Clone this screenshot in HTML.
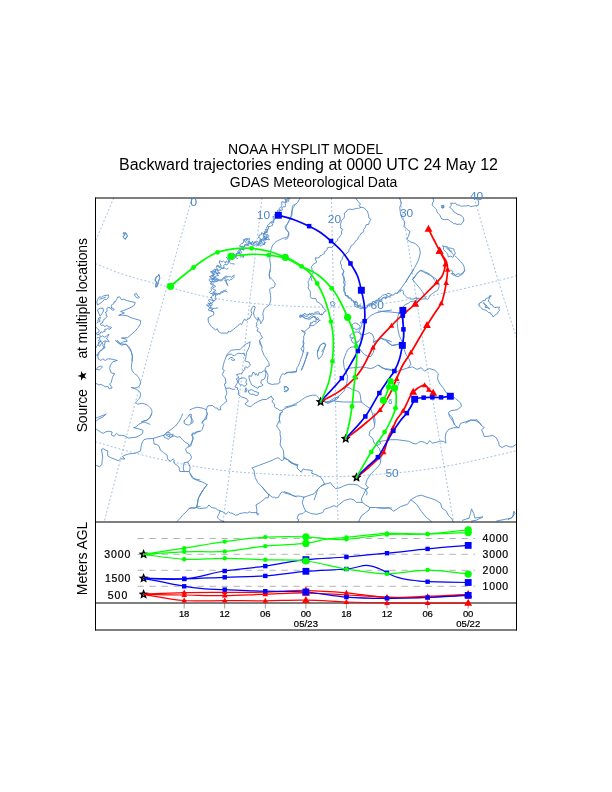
<!DOCTYPE html>
<html><head><meta charset="utf-8"><title>HYSPLIT</title>
<style>
html,body{margin:0;padding:0;background:#fff;}
body{width:612px;height:792px;overflow:hidden;}
svg{display:block;font-family:"Liberation Sans",sans-serif;will-change:transform;opacity:0.9999;}
</style></head><body>
<svg width="612" height="792" viewBox="0 0 612 792">
<rect width="612" height="792" fill="#fff"/>
<defs><clipPath id="mc"><rect x="95.5" y="198" width="421" height="324"/></clipPath></defs>
<g clip-path="url(#mc)" fill="none" stroke="#4f89c8" stroke-width="0.9" stroke-linejoin="round" stroke-linecap="round">
<g stroke-dasharray="1.9 2.1" stroke-linecap="butt" stroke-width="0.7" stroke="#79a5d6">
<path d="M113.7 198.0L96.0 240.0"/>
<path d="M192.0 198.0C184.9 223.3 164.0 296.2 149.4 350.0C134.8 403.8 111.9 492.5 104.4 521.0"/>
<path d="M262.0 198.0C259.6 218.3 251.4 286.9 247.6 320.0C243.8 353.1 243.4 363.1 239.3 396.8C235.2 430.5 225.7 501.1 223.0 522.0"/>
<path d="M331.5 198.0L338.0 522.0"/>
<path d="M399.5 198.0C400.9 205.7 403.9 219.0 408.0 244.0C412.1 269.0 418.9 316.6 424.0 348.0C429.1 379.4 433.5 403.7 438.4 432.7C443.3 461.7 451.0 507.1 453.5 522.0"/>
<path d="M474.3 198.0C478.3 211.8 491.3 257.6 498.3 280.8C505.3 304.1 513.5 328.1 516.5 337.5"/>
<path d="M95.4 263.7C100.5 265.6 113.7 271.4 126.0 275.3C138.3 279.2 155.3 283.5 169.1 287.1C182.9 290.8 194.9 294.5 208.7 297.2C222.5 299.9 235.0 301.7 251.9 303.3C268.8 304.9 291.3 306.5 310.1 306.9C328.9 307.3 346.6 307.3 364.7 305.8C382.8 304.3 403.7 300.4 418.7 297.9C433.7 295.4 440.9 293.7 454.7 290.7C468.5 287.7 491.1 282.4 501.4 279.9C511.7 277.4 514.0 276.3 516.5 275.6"/>
<path d="M95.4 441.7C100.5 443.2 114.9 447.7 126.0 450.7C137.1 453.7 150.0 457.0 162.0 459.7C174.0 462.4 185.9 464.9 197.9 466.9C209.9 468.9 221.9 470.4 233.9 471.6C245.9 472.8 257.2 473.4 269.9 474.1C282.6 474.8 299.1 475.5 310.1 475.9C321.1 476.3 325.7 476.8 336.0 476.6C346.3 476.4 358.1 475.8 371.9 474.8C385.7 473.8 403.7 472.4 418.7 470.5C433.7 468.6 448.1 466.0 461.9 463.3C475.7 460.6 492.3 456.4 501.4 454.3C510.5 452.2 514.0 451.3 516.5 450.7"/>
</g>
<path d="M123.3 233.2C123.6 233.1 125.4 232.4 125.9 232.8C126.4 233.2 127.4 235.2 127.3 236.1C127.1 236.9 125.5 239.1 125.0 239.2C124.5 239.2 123.4 237.2 123.3 236.6C123.2 236.0 124.5 235.3 124.5 234.9C124.5 234.4 123.5 233.4 123.3 233.2"/>
<path d="M158.8 274.8C159.0 275.3 159.9 277.6 159.8 278.6C159.8 279.5 158.5 281.0 158.1 282.0C157.8 283.0 157.5 285.7 157.1 286.3C156.7 286.9 155.5 287.3 155.4 286.8C155.3 286.4 156.5 283.9 156.4 282.9C156.4 281.9 155.0 280.2 155.0 279.4C155.1 278.6 156.3 277.5 156.8 276.9C157.3 276.2 158.5 275.1 158.8 274.8"/>
<path d="M134.8 294.0L136.7 293.5L137.6 295.9L139.5 297.3L138.1 298.3L135.7 296.8Z"/>
<path d="M97.8 299.2L99.3 296.8L101.6 297.3L103.5 295.9L108.3 294.9L108.7 296.8L106.4 299.7L104.5 299.2L102.6 301.6L100.2 303.5L97.4 304.9L96.9 302.5Z"/>
<path d="M99.7 299.2L102.6 298.3L105.4 297.3"/>
<path d="M97.8 309.6L100.2 308.2L103.0 308.2L103.5 311.0L102.1 313.4L100.2 316.2L98.8 313.4Z"/>
<path d="M117.7 297.3L119.6 296.8L121.5 299.7L123.4 299.2L127.2 300.6L131.0 301.6L135.2 302.5L134.3 305.4L131.0 307.3L127.2 309.1L123.4 310.6L120.6 311.5L124.4 312.9L118.7 315.3L122.5 315.1L127.2 315.8L131.0 317.7L135.7 319.1L140.5 320.5L140.6 322.4L140.5 323.8L138.1 327.6L134.8 331.4L131.0 334.7L127.7 337.6L121.5 338.0L125.8 339.0L127.2 341.3L123.4 341.8L119.6 343.7L115.4 340.4L118.7 343.2L121.5 345.1L125.8 344.2L128.6 347.5L131.0 351.3L132.4 355.5L131.9 360.8"/>
<path d="M117.3 340.3C117.8 340.7 119.5 343.1 120.7 343.7C122.0 344.3 125.5 343.9 126.7 344.6C128.0 345.3 129.5 347.6 130.2 348.9C130.9 350.1 131.6 352.6 131.9 354.0C132.2 355.4 132.5 357.3 132.4 359.2C132.3 361.0 131.2 365.9 131.4 367.7C131.5 369.6 132.7 371.7 133.6 372.9C134.5 374.0 137.0 375.1 137.9 376.3C138.8 377.6 140.3 380.9 140.5 382.3C140.6 383.7 139.5 385.8 138.7 386.6C138.0 387.4 135.8 387.9 134.8 388.0C133.8 388.1 130.8 387.3 131.0 387.5C131.2 387.6 135.0 388.6 136.2 389.2C137.4 389.8 139.4 391.3 139.9 392.1C140.5 392.9 140.6 394.3 140.5 395.2C140.4 396.1 139.9 397.7 139.3 398.6C138.6 399.6 136.0 401.7 135.8 402.4C135.6 403.1 137.0 404.0 137.9 404.1C138.7 404.2 141.0 403.3 142.2 403.4C143.3 403.5 145.4 404.1 146.5 404.6C147.5 405.2 149.5 406.6 150.2 407.5C151.0 408.4 151.9 410.4 152.0 411.5C152.0 412.6 151.2 414.8 150.8 415.8C150.3 416.8 149.3 418.2 148.5 418.9C147.7 419.5 145.7 420.5 144.8 420.9C143.8 421.3 141.2 421.5 141.3 421.8C141.4 422.0 144.5 422.3 145.6 422.6C146.8 423.0 149.3 424.1 149.9 424.3"/>
<path d="M105.3 341.1L104.4 345.4L102.7 348.9L98.4 352.6L97.6 354.9L98.4 359.2L101.0 360.5L102.7 358.8L105.3 360.5L107.9 358.8L112.2 359.2L117.3 360.5L113.0 361.7L110.4 365.2L109.6 368.6L111.3 372.9L114.7 373.7L113.0 376.3L112.2 378.4L111.3 382.3L109.6 384.0L112.2 388.0L109.1 388.7L107.9 386.3L105.6 386.9L103.6 385.7L101.0 384.5L98.4 384.9L95.9 383.2L95.0 382.8"/>
<path d="M96.4 369.4C96.6 369.1 97.4 367.5 98.1 367.0C98.8 366.6 101.0 365.9 101.5 366.0C102.0 366.1 102.2 367.2 101.9 367.7C101.6 368.2 100.0 369.6 99.3 369.8C98.6 370.0 96.8 369.5 96.4 369.4"/>
<path d="M95.0 349.7L96.7 346.3L99.3 342.9L101.0 341.1"/>
<path d="M95.0 418.3L97.6 417.5L101.9 415.8L106.2 414.1L102.7 417.1L98.4 419.2L95.9 421.3"/>
<path d="M151.6 414.0L149.9 417.4L146.5 420.9L143.9 420.5L142.2 422.6L138.7 424.3L136.2 426.9L133.6 427.7L137.9 428.6L143.0 430.3L142.7 432.9L141.3 434.6L136.2 437.2L131.9 437.7L128.5 438.0L125.0 436.0L121.6 435.3L119.0 435.4L116.4 433.4L114.2 436.3L111.3 434.9L112.2 432.0L108.7 431.2L105.3 432.0L103.6 433.2L101.9 432.9L99.3 431.2L96.7 429.4L95.0 429.1"/>
<path d="M95.0 465.5L96.7 465.5L99.3 466.8L101.9 464.6L102.2 460.3L102.7 456.9L101.5 449.2L103.6 448.8L105.3 450.0L107.9 450.9L107.4 453.5L107.9 456.0L110.8 457.7L113.9 458.9L118.2 460.7L120.7 458.9L125.0 458.9L122.4 456.5L125.9 454.8L129.3 453.8L133.6 453.5L137.0 452.6L140.5 450.9L141.0 447.5L141.3 444.9L142.7 441.4L143.9 439.7L146.5 438.9L153.3 438.4L160.2 436.3L165.3 434.6L167.1 432.0L168.8 431.2L172.2 428.6L175.6 426.0L178.2 422.6L179.9 420.0L181.6 416.6L182.5 414.0"/>
<path d="M163.6 435.4L166.2 432.9L169.6 432.5L170.5 434.9L173.1 434.2L172.5 436.6L169.6 437.7L168.4 439.4L166.2 438.0L164.5 437.7L163.6 435.4"/>
<path d="M166.7 434.9L169.1 434.2L170.1 436.3L167.9 436.6L166.7 434.9"/>
<path d="M153.3 438.4L153.7 441.4L154.2 444.0L156.8 444.5L158.5 445.7L159.8 448.0L160.2 450.0L162.2 451.4L163.6 452.6L167.1 455.2L167.4 457.7L167.9 459.5L170.5 461.2L173.1 458.9L174.3 460.0L173.9 462.0L174.8 463.8L177.3 465.5L179.1 467.2L179.4 469.8L179.9 471.5L184.2 471.5"/>
<path d="M171.3 436.3L174.8 436.0L177.3 437.2L179.9 436.6L180.8 438.0L182.8 439.7L184.2 441.4L186.8 443.2L188.5 444.0L189.0 446.6L186.8 447.5L185.6 449.2L186.8 452.6L189.0 453.1L190.2 454.3L191.4 456.9L191.1 458.6L189.4 460.7L187.6 462.0"/>
<path d="M200.0 431.2L197.1 431.5L194.5 432.9L192.4 433.2L191.9 435.4L193.1 438.0L192.8 439.7L191.1 443.2L189.0 446.6"/>
<path d="M184.2 462.9L187.6 462.0L189.0 464.6L190.2 467.2L189.7 469.8L189.0 471.5L184.2 471.5L183.4 468.9L183.4 466.3L184.2 462.9"/>
<path d="M189.0 471.5L191.1 474.9L193.6 478.3L197.1 479.5L200.0 480.0"/>
<path d="M184.2 420.9L185.9 418.8L187.6 417.4L189.0 414.9L191.1 414.0L191.4 416.6L191.9 419.1L193.1 420.9L192.8 422.6L188.5 425.2L185.9 424.3L184.2 423.4L184.2 420.9"/>
<path d="M177.3 521.2L179.9 518.6L182.5 515.2L185.9 512.1L188.5 509.2L191.1 507.5L194.5 508.3L197.1 506.9L200.0 506.6"/>
<path d="M200.0 494.6L198.8 497.2L197.9 499.7L197.6 503.2L197.1 506.6"/>
<path d="M288.6 197.1L288.1 199.0L286.5 199.4L284.7 199.6L287.2 202.0L285.2 202.4L281.7 201.7L281.8 203.1L281.8 204.5L281.7 205.5L281.6 206.8L279.9 207.5L279.3 208.3L280.3 210.3L277.7 210.0L277.9 211.2L277.3 212.2L277.9 214.0L277.1 214.9L274.2 214.7L276.6 217.6L272.8 216.4L273.4 218.2L273.3 219.5L273.5 220.9L272.1 221.3L271.2 222.0L269.9 222.6L269.5 224.0L268.6 224.5L267.5 225.3L267.3 226.9L266.4 227.5L267.5 230.1L265.1 229.5L267.3 232.6L264.7 232.6L264.6 233.9L261.3 232.8L261.4 234.5L260.2 234.9L259.0 235.1L258.9 237.4"/>
<path d="M290.4 197.1L289.9 198.7L288.7 199.5L288.8 201.2L286.1 200.6L285.3 202.2L285.3 203.8L285.5 205.6L285.3 206.7L282.8 206.9L281.7 208.0L282.6 210.0L280.9 210.3L279.2 211.2L279.7 212.8L278.8 214.0L278.1 215.2L276.8 215.3L276.6 217.0L275.2 217.3L274.7 218.3L274.6 220.0L273.6 220.8L273.9 222.7L271.3 222.6L273.0 225.0L271.6 225.7L270.2 226.5L268.0 226.6L268.8 228.8L267.5 229.5L267.7 231.0L266.8 232.0L264.2 231.7L265.5 234.5L263.2 233.9L263.4 236.0"/>
<path d="M258.6 237.5L260.0 238.4L261.2 239.5L262.5 239.4L264.2 235.7L265.6 240.4L266.3 239.9L266.8 237.2L268.2 237.4L269.5 239.6L268.1 239.7L264.7 239.1L263.9 240.0L264.0 240.7L264.7 244.3L262.8 243.6L260.6 240.0L261.1 244.0L259.1 243.1L258.5 245.2L256.5 242.9L254.5 242.2L253.4 244.1L251.4 244.2L251.2 242.6L249.4 243.5L249.0 241.2L249.4 238.3L246.9 240.1L245.6 239.7L243.7 240.0L244.9 241.6L248.0 244.5L245.6 244.7L243.7 247.2L243.1 246.3L241.8 246.4L239.4 245.9L242.2 247.1L241.5 248.3L243.8 249.5L239.8 248.9L241.7 252.9L240.3 253.4L237.9 251.8L238.0 253.7L236.0 253.6L236.0 255.3L236.0 257.1L233.3 255.6L233.9 258.5"/>
<path d="M268.1 234.9L266.5 234.5L265.9 236.4L266.5 238.8L264.3 237.9L263.6 238.9L262.9 240.0L260.3 239.1L259.7 240.5L259.2 242.6L256.4 241.1L255.5 241.8L254.9 241.3L253.7 244.5L252.6 241.2L250.8 244.2L250.0 241.7L247.8 241.7L249.0 245.1L247.7 245.5L244.7 244.6L244.6 246.4L243.4 246.7L244.1 250.2L241.4 249.1L240.2 250.0L238.7 249.9L239.9 253.3L238.0 253.5L236.4 253.8L236.7 255.6L233.7 254.8"/>
<path d="M232.9 257.2L231.8 258.6L230.1 256.8L229.3 257.8L230.0 261.1L229.0 261.8L227.7 262.2L226.0 260.9L225.6 263.1L223.4 261.0L222.3 261.9L219.5 260.7L219.3 262.0L221.2 266.2L220.2 266.1L219.7 267.5L216.8 265.9L216.2 267.5L218.2 270.2L214.4 269.1L215.8 271.4L214.1 271.9L212.0 272.5L215.1 274.5L213.3 275.2L211.3 276.0L209.4 276.7L213.0 278.8L214.4 280.0L215.1 281.2L210.3 281.9"/>
<path d="M234.6 255.5L234.8 257.4L234.0 258.6L232.8 259.6L228.8 257.0L229.1 259.2L228.7 260.8L228.8 262.7L227.7 263.9L226.9 265.0L225.1 264.4L223.6 265.4L223.9 266.7L223.5 268.4L221.5 268.4L220.8 269.5L219.3 270.1L216.9 270.5L219.5 273.2L215.6 272.8L218.8 275.5L216.4 275.9L214.4 277.0L217.2 278.6L218.1 279.9L218.0 281.1L215.1 281.9"/>
<path d="M295.0 204.9C294.7 205.3 293.4 207.4 292.9 208.3C292.5 209.2 291.8 210.8 291.6 211.7C291.3 212.6 291.6 213.8 291.2 215.2C290.8 216.5 289.4 220.5 288.6 222.0C287.8 223.5 285.6 225.3 285.2 226.3C284.9 227.3 285.6 228.9 286.1 229.7C286.5 230.5 288.3 231.5 288.6 232.3C289.0 233.1 289.0 235.1 288.6 235.7C288.3 236.4 286.9 237.1 286.1 237.5C285.3 237.8 283.6 238.0 282.6 238.3C281.7 238.7 280.1 239.6 279.2 240.0C278.3 240.5 276.5 241.2 275.8 241.7C275.0 242.3 274.2 243.4 273.7 244.0C273.3 244.5 272.8 245.1 272.3 246.0C271.9 247.0 270.9 249.9 270.6 251.2C270.4 252.4 270.4 254.3 270.3 255.5C270.2 256.6 269.7 258.3 269.8 259.8C269.8 261.2 270.7 264.8 270.6 266.6C270.6 268.5 269.4 271.8 269.3 273.5C269.1 275.1 269.7 278.2 269.8 279.0"/>
<path d="M213.2 270.0L213.2 271.2L210.4 271.8L212.3 273.4L213.6 275.0L211.3 275.6L213.4 277.4L213.6 278.3L209.9 279.0L208.8 280.0L210.2 281.3L212.2 282.8L210.1 283.7L212.2 284.7L213.3 285.7L211.5 287.1L211.2 288.3L211.4 289.4L211.5 290.6L209.5 292.4L210.4 293.3L213.1 293.8L213.4 294.9L211.5 296.6L211.3 297.9L210.7 297.2L213.8 300.9L209.3 299.4L208.3 300.2L211.7 303.8L207.8 303.1L210.8 305.5L206.4 304.9L209.7 307.6L210.2 306.8L208.3 310.1L210.3 310.5L212.7 311.1L213.4 312.3L213.7 313.5L213.6 315.0"/>
<path d="M215.7 270.0L215.1 271.3L214.5 272.7L213.7 273.8L213.5 275.3L213.8 276.8L215.3 278.3L211.6 279.5L212.4 280.9L214.1 282.4L212.9 283.7L213.2 285.2L215.6 286.3L212.5 288.0L213.4 289.3L216.1 290.4L212.8 292.3L215.7 293.2L215.9 294.6L215.4 296.0L215.6 297.5L216.3 299.2L214.7 300.0L214.4 301.1L213.1 302.0L211.6 302.9L212.2 304.8L211.4 306.2L210.1 307.3L213.4 308.6L210.6 310.9L212.9 311.5L214.1 312.6"/>
<path d="M212.3 279.4L214.2 279.6L215.4 280.3L217.5 278.9L219.5 279.8L220.9 281.1L222.6 280.2L223.5 278.6L225.4 278.0L226.7 277.2L228.4 276.6L230.1 276.7L231.9 277.4L233.8 274.9"/>
<path d="M225.2 278.6L226.2 279.9L226.0 281.7L226.8 282.9L227.3 284.4"/>
<path d="M213.2 295.7L214.8 294.3L217.1 295.1L217.9 293.7L220.3 294.2L221.7 292.5L223.6 292.1L224.6 290.8L227.1 291.8"/>
<path d="M210.6 308.6L212.1 309.3L213.8 308.3L215.6 308.4L217.8 307.8"/>
<path d="M212.3 315.5L208.0 318.0L208.5 322.3L211.4 326.6L215.7 330.0L217.4 328.7L218.3 331.4L220.9 333.1L225.2 333.1L227.7 333.1L228.6 330.9L229.8 332.1L233.7 329.2L238.9 324.9L240.1 323.5L241.5 324.6L243.2 321.5L244.6 318.9L245.8 320.6L250.0 318.0L251.8 313.7L250.9 310.3L252.1 307.7L253.5 306.0L255.2 306.9L254.8 308.6L253.5 312.9L254.3 316.3L256.9 319.8L258.6 319.8L257.8 317.2L259.5 319.8L260.7 322.3L260.7 323.5"/>
<path d="M270.6 270.0C270.4 270.6 269.4 273.4 269.3 274.3C269.1 275.2 269.0 275.7 269.8 276.9C270.5 278.0 274.3 281.5 274.9 282.9C275.5 284.2 274.7 286.4 274.1 287.2C273.4 288.0 270.2 287.7 269.8 288.9C269.3 290.0 270.5 294.1 270.6 295.7C270.7 297.3 270.9 299.6 270.6 300.9C270.4 302.1 269.7 304.1 268.9 305.2C268.1 306.2 265.4 307.5 264.6 308.6C263.8 309.7 263.1 312.4 262.9 313.7C262.8 315.1 263.7 317.6 263.4 318.9C263.1 320.2 261.0 322.9 260.7 323.5"/>
<path d="M257.8 319.8L257.8 321.5L256.2 323.1L256.8 324.8L256.2 326.6L258.2 328.6L257.0 331.0L260.2 332.6L260.4 334.4L261.6 336.0L262.4 337.6L259.7 339.8L260.0 342.0L259.9 344.5L262.0 346.4"/>
<path d="M250.0 342.0L248.3 342.9L245.8 344.1L243.2 346.3L239.8 349.7L235.5 349.7L231.2 350.2L228.6 352.6L226.9 354.9L225.2 359.2L224.3 361.7L223.5 364.3L222.6 369.4L224.3 370.3L222.3 374.6L223.5 376.3L225.2 378.0L226.0 383.2L224.3 384.0L225.7 388.3L226.9 393.5L225.2 396.9L226.9 401.2L225.2 402.4L223.5 403.8L221.7 405.8L220.0 407.2L220.9 409.8L218.3 409.8L217.4 408.0L215.7 408.0L212.3 405.5L208.0 405.8L206.8 408.0L206.3 409.8L203.7 408.6L202.0 408.0L196.9 407.2L192.6 408.6L190.0 409.8"/>
<path d="M206.3 409.8L207.2 414.1L205.8 417.1L204.6 419.2L202.0 423.0"/>
<path d="M190.0 415.8L191.7 419.2L190.9 423.0"/>
<path d="M250.0 342.0L249.7 344.6L249.2 347.1L248.0 349.7L246.6 352.3L245.8 357.4L244.9 360.9L249.2 362.2L250.4 365.2L247.5 367.7L245.8 366.9L244.6 367.7L244.9 369.4L243.2 371.2L242.3 372.9L240.6 373.7L236.3 374.6L238.9 377.2L236.3 378.9L237.7 381.1L237.2 383.2L234.9 386.9L238.0 388.0L237.2 389.2L238.9 390.9L238.0 394.3L241.5 396.9L246.6 398.6L248.3 401.2L244.9 403.8L247.5 405.8L250.9 406.8L253.5 404.1L258.6 401.2L262.9 399.5L266.3 399.5L268.9 397.8"/>
<path d="M268.9 397.8L271.4 396.0L272.1 398.1L273.9 399.2L271.9 400.9L273.0 402.9L274.7 404.2L274.4 406.4L275.6 408.0L277.4 408.6L279.2 410.2L280.9 410.4L282.3 410.6L282.3 412.3L280.8 412.5L280.7 414.6"/>
<path d="M280.1 414.1L279.2 417.5L280.1 423.0"/>
<path d="M226.9 355.7L229.1 354.4L231.2 354.0L232.9 355.4L234.6 355.7L236.7 354.0L238.9 353.2L241.5 353.7L244.0 353.2L244.9 355.7"/>
<path d="M228.6 359.2L230.3 357.8L232.0 357.4L233.7 358.8L234.9 360.0L232.9 360.5L231.2 359.5"/>
<path d="M238.9 378.9L241.1 378.4L243.2 377.7L245.2 378.4L246.6 380.1L245.8 382.3L247.0 384.0L245.8 385.7L244.0 386.3L242.3 384.9L240.6 384.9L238.9 383.5L238.4 382.3L238.9 378.9"/>
<path d="M249.3 375.8L251.6 376.3L252.8 372.3L254.5 372.9L255.6 375.2L256.2 373.5L257.9 375.8L259.1 372.3L260.8 372.9L263.1 371.2L265.3 370.6L265.9 373.5L265.3 376.9L264.2 379.2L261.3 380.3L260.8 383.2L263.1 384.9L260.8 386.6L259.1 386.1L257.9 388.4L255.6 387.2L253.9 386.1L251.6 384.9L250.5 382.1L249.3 379.2Z"/>
<path d="M248.3 390.9L250.0 390.0L251.8 389.7L253.8 390.9L256.0 391.8L258.6 392.6L257.8 395.2L256.0 395.5L253.5 394.3L250.9 394.3L249.2 393.5L248.3 390.9"/>
<path d="M245.8 388.3L247.0 389.2L246.3 391.8L244.9 392.1L245.8 388.3"/>
<path d="M284.4 387.5L286.4 386.3L288.6 388.7L286.9 390.9L284.4 389.7L284.4 387.5"/>
<path d="M259.5 341.1L262.1 347.1L261.7 349.7L262.9 352.3L264.1 355.4L265.5 357.4L268.9 362.6L269.3 366.0L266.9 366.4L265.5 367.7L265.1 369.4L266.3 371.2L268.1 375.5L267.2 380.6L268.1 383.2L272.3 384.5L274.9 384.0L277.5 384.0L280.1 382.3L279.6 380.1L280.1 378.0L281.3 375.5L282.6 373.7L284.7 374.3L286.9 372.9L291.2 372.0L295.0 371.5L296.4 371.2"/>
<path d="M282.6 409.8L286.1 408.0L291.2 406.3L295.0 405.1L296.4 404.8"/>
<path d="M226.0 388.3L229.5 388.0L232.0 389.2L234.9 389.2"/>
<path d="M207.2 413.1L207.2 414.0L206.3 419.1L203.7 420.0L202.0 422.6L204.1 424.6L202.9 426.9L202.4 429.4L200.3 431.2L197.7 432.0L195.1 433.7L191.7 434.6L193.1 437.2L192.6 439.7L191.7 443.2L190.9 445.7L190.0 446.6"/>
<path d="M190.0 474.0L192.6 478.3L198.6 480.9L202.9 482.3L207.2 484.7L204.6 487.8L201.2 492.9L200.3 495.0"/>
<path d="M280.1 413.1L280.1 414.0L279.2 420.9L276.6 426.0L278.4 428.6L280.1 431.2L280.1 434.6L280.9 438.0L280.1 444.9L282.3 448.3L283.5 450.9L284.0 458.6"/>
<path d="M284.0 458.6L282.6 460.7L280.9 460.3L279.2 458.3L277.5 457.7L274.9 458.9L272.3 460.3L265.5 462.9L258.6 465.5L251.8 468.0L253.8 469.8L254.3 472.3L255.2 477.5L257.8 482.6L262.1 486.9L265.5 491.2L268.9 495.0"/>
<path d="M284.0 458.6L287.8 459.5L291.2 462.0L295.0 464.6L296.4 465.5"/>
<path d="M200.3 494.9L201.2 492.9L202.9 490.3L207.2 484.6"/>
<path d="M202.9 490.3L198.6 498.0L196.5 507.5"/>
<path d="M189.1 508.3L190.0 508.3L196.5 507.5L199.4 508.7L202.0 508.3L205.4 508.0L207.2 507.5L208.9 504.9L211.4 507.5L215.7 508.3L217.8 510.0L220.0 510.9"/>
<path d="M220.0 510.9L223.5 512.1L224.7 513.5L226.0 514.3L228.6 511.8L230.3 513.1L232.0 513.1L235.5 515.2L238.0 514.8L239.8 513.5L242.3 513.1L244.9 512.6L247.5 513.1L249.2 511.8L251.8 512.6L256.0 512.6L258.6 513.5L257.8 515.2L256.6 513.5L256.9 510.0L256.0 504.9L260.3 502.3L264.6 498.9L265.5 497.7L268.1 498.0L268.9 494.6"/>
<path d="M220.0 510.9L219.2 513.5L217.4 516.9L218.3 518.6L219.2 519.5L222.6 521.2L224.3 522.0"/>
<path d="M268.9 494.6L272.3 497.2L274.4 497.2L275.8 498.0L278.4 497.2L279.2 495.5L280.9 492.9L282.6 492.0L285.2 493.2L287.8 493.7L292.9 495.5L295.0 496.3L296.4 496.8"/>
<path d="M268.9 494.6L265.5 491.2L262.1 486.9"/>
<path d="M288.6 461.1L289.5 462.0L295.0 464.6L297.2 465.4"/>
<path d="M300.4 197.1C300.3 197.4 300.0 198.1 299.6 198.9C299.1 199.7 297.9 202.2 297.0 203.1C296.1 204.1 293.4 204.8 292.7 205.7C292.1 206.6 292.3 208.8 292.2 210.0C292.1 211.3 292.4 213.6 291.9 215.2C291.4 216.8 289.2 220.3 288.4 222.0C287.6 223.7 285.9 226.6 285.9 228.0C285.9 229.4 288.2 230.9 288.4 232.3C288.7 233.7 288.0 237.4 287.6 238.3C287.1 239.2 285.3 239.1 285.0 239.2"/>
<path d="M360.5 207.4L358.6 208.5L357.2 208.2L355.1 208.9L353.9 209.1L352.2 209.5L349.8 209.1L348.4 209.6L347.2 210.1L346.1 212.0L344.3 213.1L344.5 215.4L344.4 216.9L343.5 218.7L342.4 219.8L341.3 220.8L341.0 222.9L340.4 224.4L340.8 226.5L340.4 228.0L342.3 228.9L341.9 230.8L341.4 232.0L341.7 233.9L340.7 235.2L340.0 236.5L338.9 237.5L337.8 238.7L337.3 240.6L336.3 241.6L334.7 243.0L334.9 244.9L333.1 245.9L331.5 247.5L329.4 247.2L327.3 247.9L327.1 249.7L326.1 250.8L324.3 251.8L324.5 253.4L322.7 254.4L321.8 255.2L320.0 255.7L319.6 257.2L317.1 258.0L315.1 257.9L315.8 260.0L316.7 262.2L315.0 263.2L313.2 264.2L312.8 265.2L311.3 266.8L311.8 268.1L312.1 269.6L313.2 271.0L313.3 272.5L312.0 274.5L310.6 275.9L311.2 277.9L311.9 280.5"/>
<path d="M360.5 207.4L362.1 207.3L364.4 208.0L365.6 209.7L367.2 210.8L367.9 212.9L368.4 214.4L368.8 216.0L368.8 217.8L370.8 219.3L369.8 221.2L369.0 222.9L368.5 224.5L366.3 224.6L365.5 226.7L364.9 228.1L363.8 229.4L363.7 230.9L362.9 232.5L360.9 233.6L360.2 235.3L358.6 236.7L357.9 238.5L357.4 239.7L355.4 241.0L355.0 242.2L353.9 243.5L352.5 245.2L350.7 246.2L350.3 247.9L349.0 249.7L348.9 251.6L347.0 252.8L345.8 254.3L343.7 255.4L342.5 257.2L342.2 259.3L340.7 261.1L340.3 263.1L341.5 265.2L341.4 267.3L342.3 269.1L343.8 271.1L343.4 273.2L342.8 275.3L343.4 277.0L343.6 278.6L344.1 280.3"/>
<path d="M355.7 197.1L356.2 198.9L358.4 201.8L360.5 204.0L359.1 205.7L360.5 207.4"/>
<path d="M311.6 276.0L310.8 277.4L309.2 278.6L309.2 280.2L307.9 281.9L308.5 283.7L308.8 285.4L308.1 287.1L308.5 289.2L310.0 290.4L310.3 292.3L310.4 294.4L310.3 296.6L311.3 298.1L312.8 298.6L315.8 298.5L316.3 300.2L317.4 302.2L319.1 302.6L320.2 304.0L322.0 305.2L322.6 307.0L323.6 308.3L326.3 310.8L323.9 312.0L323.1 313.9L322.1 315.0"/>
<path d="M321.9 314.6L320.5 314.6L319.2 313.9L317.2 313.9L315.7 313.8L313.5 314.4L312.2 312.9L311.1 314.3L308.9 314.0L307.4 316.4L305.7 316.3L304.0 315.0L302.1 315.0L300.2 316.0L302.1 316.5L303.9 317.7L305.4 318.4L307.1 318.7L309.1 319.4L310.8 318.8L311.5 317.3L313.7 317.0L315.1 317.9L316.3 318.7L317.7 319.7L320.3 320.3L319.0 320.8L317.9 322.3L316.5 322.9L315.5 324.1L314.3 325.1L312.1 325.7L309.8 325.7L309.6 327.7L307.9 328.4L306.6 329.8L305.1 331.4L302.9 331.0L301.4 330.2L303.1 331.9L305.5 333.0"/>
<path d="M304.7 333.5L304.3 335.2L303.6 336.8L303.8 338.7L303.4 340.4L303.6 342.1L304.1 343.7L303.1 345.4L302.2 347.1L301.0 348.7L302.1 350.7L303.9 352.2"/>
<path d="M330.5 302.6L333.0 301.2L335.1 303.5L333.9 306.0L331.3 305.7L330.5 302.6"/>
<path d="M318.5 351.0L319.0 348.1L320.2 345.5L321.9 343.8L323.6 343.4L325.3 344.1L325.3 345.5L324.1 348.1L322.7 349.8L321.9 351.5"/>
<path d="M343.3 270.0L343.8 271.8L342.4 273.3L342.4 275.1L344.0 276.6L344.4 278.4L344.6 280.3L345.1 282.0L344.8 283.7L345.2 285.5L343.7 287.1L344.8 288.9L344.0 290.6L345.3 292.2L345.5 294.0L345.7 295.7L347.0 296.4L348.6 297.0L349.3 298.2L351.3 299.2L352.8 301.4L354.4 302.0L356.3 301.3"/>
<path d="M356.2 301.7L354.5 303.2L354.5 305.0L355.8 306.9L357.6 307.2L359.2 307.8L361.2 309.1L362.4 307.5L364.4 308.1L366.5 308.1L367.4 306.9L368.3 304.1L370.8 304.0L373.0 304.3L374.4 302.9L375.4 300.6L377.2 300.2L378.9 298.8L381.2 300.2L382.5 298.5L384.0 297.1L386.9 297.5L388.1 296.9L390.1 295.8L391.8 294.6"/>
<path d="M391.4 310.0L390.0 310.3L382.8 311.2L379.4 312.2L375.9 312.9L373.4 314.3L370.8 315.5L369.1 317.2L367.3 318.9L365.6 321.5L363.1 321.5L360.5 322.3L361.9 324.6L361.3 326.6L360.1 329.2L358.8 330.9L360.1 332.6L361.3 334.3L363.6 334.8L365.6 334.3L369.1 332.6L372.5 334.3L374.2 338.6L373.4 342.1"/>
<path d="M351.9 324.9L353.6 323.5L355.3 322.8L358.8 324.6L360.1 326.6L359.6 328.3L356.2 329.7L354.5 328.3L352.8 328.3L351.9 324.9"/>
<path d="M350.2 335.2L352.8 332.6L357.1 331.8L360.5 333.8L361.3 336.0L360.5 338.6L357.9 342.1L355.3 343.4L352.8 342.9L351.0 339.5L353.6 337.8L350.2 337.8L350.2 335.2"/>
<path d="M373.4 342.1L376.8 340.3L381.1 338.6L384.5 340.0L387.9 340.3L390.0 341.2L391.4 341.7"/>
<path d="M303.0 341.1L303.9 348.9L303.0 352.3L302.2 355.7L300.8 359.2L299.6 362.6L298.4 365.7L297.0 367.7L296.2 372.0L293.9 372.2L291.9 372.9L289.3 372.2L286.7 372.5L285.0 373.7"/>
<path d="M307.3 352.3L306.4 356.1L305.6 359.2L303.9 364.0L302.2 367.7L301.3 370.3L302.8 367.4L303.9 364.3L305.2 360.5L306.4 357.4L308.2 352.6L307.3 352.3"/>
<path d="M317.6 350.6L319.0 347.5L320.2 345.4L322.4 343.7L324.5 342.9L325.8 344.6L324.8 347.5L323.6 350.6L322.7 353.7L321.9 355.7L320.2 357.8L318.5 359.2L317.3 354.9L317.6 350.6"/>
<path d="M284.1 386.3L285.0 386.6L287.6 387.5L288.4 390.0L285.9 391.8L284.1 391.4"/>
<path d="M357.1 341.1L355.3 346.8L351.0 347.1L347.6 349.7L346.4 352.6L345.0 355.7L343.3 360.9L344.2 367.7L345.9 372.0L347.6 376.3L346.8 383.2L345.9 386.6L344.2 390.9L339.9 395.2L336.5 397.8L333.9 400.3L327.0 402.9L323.6 401.2"/>
<path d="M320.2 401.2L318.5 397.8L315.9 395.2L312.4 395.2L309.0 396.0L305.6 397.2L302.2 399.5L298.7 402.0L295.3 403.8L291.9 405.5L288.4 406.3L285.0 407.2"/>
<path d="M325.3 402.0L329.6 401.2L334.8 397.8L339.0 396.9L336.5 399.5L331.3 402.0L327.9 403.4L325.3 402.0"/>
<path d="M334.8 401.2L343.3 402.0L353.6 402.0L361.3 402.0"/>
<path d="M361.3 402.0L360.8 399.5L360.5 396.9L360.1 394.3L358.8 391.8L355.7 390.4L352.8 390.0L350.2 388.3L348.5 387.5L345.9 386.6"/>
<path d="M345.9 369.4L350.2 368.1L353.6 367.7L357.9 367.4L362.2 366.9L366.5 367.7L370.8 368.6L374.2 367.4L377.6 365.2L379.7 366.0L381.1 367.7L385.4 368.6L390.0 369.4L391.4 369.8"/>
<path d="M355.3 346.8L357.9 348.0L360.5 349.7L362.2 352.3L364.3 354.4L367.3 356.1L370.8 356.6L373.4 352.3L374.2 347.1L375.1 342.0L375.2 341.1"/>
<path d="M361.3 402.0L365.6 405.5L370.8 408.9L372.5 414.1L374.2 423.0L374.6 424.3"/>
<path d="M284.1 457.2L285.0 457.7L288.4 460.3L291.0 462.9L293.6 463.8L297.9 464.6L297.0 468.0L301.3 472.3L303.0 468.9L305.6 469.8L308.2 469.8L312.4 470.6L311.6 473.2L316.7 474.9L321.0 477.5L323.6 481.8L324.5 484.3L327.9 483.5L330.5 482.6L332.2 485.2L335.6 488.6L339.9 487.8L343.3 486.1L348.5 484.3L353.6 484.3L357.9 485.2L361.3 487.8L365.6 489.5L368.2 487.8"/>
<path d="M324.5 484.3L321.0 486.1L317.6 489.5L315.9 495.0L314.2 499.8"/>
<path d="M374.2 413.1L374.2 414.0L375.1 420.9L374.2 427.7L369.9 431.2L369.1 435.4L372.5 438.0L374.2 443.2L376.8 445.7L381.1 443.2L378.5 441.4L375.9 443.2L377.6 446.6L379.4 448.3L380.7 452.6L381.1 456.9L380.2 463.8L377.6 467.2L374.2 470.6L370.8 474.0L367.3 479.2L365.6 484.3L368.2 487.8L365.6 489.5L367.3 492.9L366.5 495.0"/>
<path d="M365.6 490.3L364.3 492.9L363.1 495.5L361.3 498.9L362.2 502.3"/>
<path d="M324.5 484.3L321.0 486.0L317.6 489.4L314.2 493.7L309.0 495.5L303.9 497.2"/>
<path d="M284.1 491.5L285.0 492.0L290.1 493.7L292.7 495.5L295.3 496.3L297.9 496.0L300.4 496.3L303.9 497.2"/>
<path d="M303.9 497.2L302.2 502.3L303.9 507.5L305.6 510.9L303.0 513.5L298.7 514.3L297.0 518.6L299.1 520.0L297.9 521.2L297.0 522.4"/>
<path d="M305.6 510.9L310.7 513.5L316.7 514.3L322.7 512.6L324.5 509.2L329.6 507.5L333.9 505.7L336.5 506.6L339.9 504.0L344.2 500.6L350.2 498.9L353.6 499.7L356.2 502.3L362.2 502.3"/>
<path d="M362.2 502.3L365.6 504.9L369.9 507.5L369.1 510.0L365.6 512.6L361.3 516.0L358.8 521.2L358.4 522.9"/>
<path d="M369.9 507.5L375.9 507.5L382.8 508.3L390.0 508.0L391.4 508.0"/>
<path d="M399.2 197.1L399.7 198.0L401.4 203.1L399.7 207.4L400.2 210.9L400.6 214.3L402.3 218.6L404.9 222.0L404.0 226.3L407.4 229.7L410.0 231.5L408.3 236.6L406.6 239.2L410.0 241.7L415.2 243.5L419.5 247.8L420.3 252.9L418.6 259.8L415.2 266.6L410.9 273.5L407.4 279.0L405.7 282.1"/>
<path d="M433.5 197.1L433.1 198.9L433.7 200.9L432.7 202.8L432.1 204.9L433.3 206.2L434.5 207.4L435.4 208.6L436.6 209.8L436.9 211.8L438.3 213.5L440.0 215.4L440.9 217.5L441.8 219.0L444.5 219.7L446.7 219.4L449.1 219.9L450.7 221.6L452.2 222.1L453.8 223.9L455.9 223.6L457.0 224.6L459.1 224.0L460.8 224.5L462.2 223.3L463.4 221.6L463.8 219.9L463.4 217.7L462.5 216.6L460.9 215.3L459.1 214.6L457.9 214.4L455.8 213.0L454.0 212.0L452.9 210.3L451.5 208.6L449.5 207.3L451.2 205.4L450.8 203.0L453.5 203.4L455.4 203.0L456.7 204.8L459.3 205.1L461.2 206.4L462.7 206.1L464.4 205.9L466.1 206.0L467.2 205.6L469.0 205.6L470.5 206.6L472.7 206.3L474.1 205.9L476.2 205.7L478.2 205.3L478.5 204.0L478.7 202.3L478.2 200.2L475.9 198.6"/>
<path d="M441.8 205.7L443.5 205.2L443.8 207.4L442.1 208.0L441.8 205.7"/>
<path d="M442.6 246.0L443.9 246.5L445.9 246.3L447.9 247.2L448.7 248.0L450.4 248.1L452.4 248.5L453.8 248.9L454.2 251.2L455.4 252.8L454.6 254.8L454.1 255.6L452.8 257.3L450.7 256.1L448.1 256.9L447.8 254.3L446.6 252.6L445.2 251.2L443.4 249.6L443.6 247.6L443.2 245.9"/>
<path d="M446.0 247.8L448.2 248.2L449.3 249.5L450.4 251.5L451.3 252.6L452.8 253.5L453.4 255.3"/>
<path d="M447.8 249.5L449.3 250.0L450.1 251.4L451.8 251.1"/>
<path d="M455.5 256.3L458.1 258.9L460.6 261.5L462.7 264.0L464.1 266.6L464.4 269.2L464.1 271.8L462.3 274.3L460.6 275.2L458.1 276.6L455.5 276.1L454.1 273.5L452.1 273.5L452.9 271.4L450.3 270.1"/>
<path d="M413.5 279.0L415.2 276.1L416.9 273.5L420.3 270.1L422.5 270.7L424.6 271.8L427.2 272.8L429.8 274.3L433.2 277.8L434.6 280.3"/>
<path d="M397.2 293.2L400.6 288.9L405.7 282.0L410.0 275.1L413.5 270.0"/>
<path d="M378.3 298.8L379.9 298.0L381.2 296.5L382.6 295.2L384.4 294.8L386.4 294.3L387.6 293.3L390.2 293.9L391.7 295.2L394.1 294.8L395.1 293.1L397.6 293.5L397.9 291.9L400.4 291.8L400.3 290.0L402.4 290.1L403.4 291.1L403.2 292.7L403.7 294.2L404.9 295.4L405.7 296.3L407.1 297.7L408.6 298.1L410.1 297.8L411.5 299.1L413.8 299.0L415.0 298.2L416.6 297.7"/>
<path d="M416.0 298.3L417.2 300.0L413.8 301.2L410.3 301.7L408.0 303.5L405.2 304.6L404.0 305.7L401.5 310.0L399.5 313.2"/>
<path d="M378.3 311.2L380.0 311.2L385.1 311.7L390.3 312.0L398.9 312.9"/>
<path d="M398.9 312.9L397.5 318.0L397.2 323.2L398.0 330.0L399.2 335.2L400.6 338.6L402.3 342.1L403.7 337.8L404.0 331.8L403.2 324.9L402.3 319.8L400.6 314.6L398.9 312.9"/>
<path d="M412.6 279.4C412.8 279.1 413.7 277.5 414.3 276.9C414.9 276.2 416.1 275.1 416.9 274.3C417.7 273.5 419.3 271.1 420.3 270.9C421.3 270.6 423.6 272.1 424.6 272.6C425.6 273.0 427.1 273.8 428.0 274.3C429.0 274.7 430.2 275.2 431.5 276.0C432.7 276.8 436.4 279.0 437.5 280.3C438.5 281.6 439.2 284.1 439.2 285.4C439.2 286.8 438.0 289.8 437.5 290.6C436.9 291.4 435.8 291.1 435.2 291.4C434.7 291.8 433.9 292.6 433.2 293.2C432.5 293.7 430.4 294.9 429.8 295.7C429.1 296.5 428.6 298.8 428.0 299.2C427.5 299.5 426.0 299.0 425.5 298.3C424.9 297.6 424.4 295.3 423.7 294.0C423.1 292.8 421.3 290.2 420.3 288.9C419.3 287.5 417.1 285.0 416.0 283.7C415.0 282.5 413.1 280.0 412.6 279.4"/>
<path d="M416.9 298.3L421.2 299.2L425.5 298.8"/>
<path d="M451.2 273.4L452.9 275.1L455.5 275.1L458.1 273.8L460.6 274.3L464.1 271.7L464.9 270.0"/>
<path d="M380.0 337.8L383.4 338.6L386.9 340.3L389.4 343.4L392.0 345.5L397.2 344.6L402.3 342.1"/>
<path d="M483.7 307.4"/>
<path d="M478.6 304.2L479.9 302.8L481.7 302.2L482.8 300.6L485.1 300.6L485.9 298.5L487.4 298.1L489.0 297.7L489.5 295.9L491.4 295.9L489.8 296.5L489.5 298.1L488.8 299.6L488.3 301.2L489.9 302.3L490.3 304.4L492.4 304.9L493.3 306.8L494.9 307.6L497.3 307.2L498.2 307.2L499.8 307.2L498.7 308.6L499.5 310.5L498.1 311.7L497.8 313.2L496.3 314.0L495.3 315.2L494.4 315.5L493.2 317.0L492.4 315.0L490.9 314.4L490.5 312.9L488.5 312.6L487.3 311.1L485.9 310.2L483.8 309.7L481.9 308.9L481.5 307.9L480.3 306.8L478.8 305.9L479.5 303.8"/>
<path d="M483.9 302.7L484.6 304.3L486.3 305.0L486.8 306.7L488.5 307.6L489.7 309.1L488.5 308.4L487.1 307.4L485.3 307.6L485.4 305.6L484.4 304.3L483.6 302.8"/>
<path d="M386.9 341.1L386.9 342.0L392.0 345.4L397.2 344.6L402.3 345.4L404.0 348.9L405.7 354.0L409.2 359.2L410.9 364.3L408.3 367.7"/>
<path d="M378.3 365.2L380.0 366.0L385.1 369.4L392.0 370.3L395.4 372.0L400.6 370.3L408.3 367.7"/>
<path d="M408.3 367.7L412.6 366.9L416.9 369.4L421.2 367.7L424.6 371.2L427.2 369.4L429.8 368.6L434.9 370.3L438.3 373.7L437.5 378.9L440.0 384.0L443.5 388.3L446.0 392.6L450.3 394.3L455.5 398.6L460.6 402.9L461.5 406.3L457.2 409.8L451.2 410.6L448.6 412.3L449.5 416.6L452.1 420.1L453.8 423.0L454.1 424.3"/>
<path d="M465.8 423.0L470.9 420.1L476.1 420.9L479.5 423.0L481.2 424.3"/>
<path d="M377.4 441.8L380.0 441.4L385.1 440.6L390.3 439.7L397.2 439.7L404.0 440.6L409.2 441.4L412.6 443.2L416.0 444.0L418.6 442.3L421.2 441.4L424.6 442.3L427.2 444.0L429.8 440.6L432.3 443.2L436.6 442.3L440.0 441.1L443.5 441.4L446.0 443.2L445.2 438.0L446.0 432.9L448.6 429.4L453.8 427.7L458.9 427.7L460.6 423.4L465.8 421.7L470.9 420.0L476.1 420.0"/>
<path d="M448.6 414.0L452.1 417.4L453.8 422.6L455.5 426.0L458.9 427.7"/>
<path d="M377.7 507.8L380.0 507.8L389.2 507.8L393.7 511.2L400.6 506.6L407.5 504.3L410.9 499.7L416.6 496.3L421.2 495.2L428.0 497.5L434.9 499.7L440.6 503.2L441.8 507.8L446.3 511.2L448.6 515.8L452.1 519.2L453.2 521.9L453.7 523.8"/>
<path d="M410.9 499.7L416.6 504.3L421.2 511.2L425.8 516.9L431.5 521.5L433.1 523.8"/>
<path d="M462.4 520.3L469.2 518.1L470.4 513.5L471.5 508.9L473.8 513.5L474.9 518.1L483.0 516.9L476.1 520.3L471.5 521.0"/>
<path d="M496.7 521.0L505.8 519.2L511.5 518.1L515.0 513.5L513.8 511.2L512.7 516.9L508.1 519.7"/>
<path d="M442.0 206.3L443.7 205.7L443.9 207.6L442.4 208.0Z"/>
<path d="M476.3 419.5L479.2 422.3L480.9 425.2L484.3 427.5L481.5 429.8L483.2 433.2L484.3 436.6L489.5 436.1L492.9 435.5L496.3 437.8L498.6 442.4L499.2 445.8L502.1 447.5L506.1 445.4L509.5 446.9L512.4 446.9L515.8 444.6L518.0 443.0"/>
<path d="M250.3 243.7L251.5 244.3L252.6 245.0L253.5 246.0L254.9 244.9L256.0 244.7L257.3 245.3L258.0 244.1L258.7 243.2L259.7 242.6L260.4 241.8L261.1 240.8L262.5 240.8L263.7 240.5L264.3 239.4L265.2 238.7L265.7 237.5L266.7 237.0L267.3 235.8L268.9 236.1"/>
<path d="M257.2 244.9L258.3 245.7L259.6 244.6L260.5 246.1L261.8 245.0L262.8 244.7L264.2 244.5L264.7 243.1L265.8 242.6"/>
<path d="M245.8 241.4L246.8 240.2L247.8 238.9L247.0 238.2L245.8 238.8L244.5 239.3L243.7 239.4L244.1 241.0L243.4 242.0L243.0 243.1L241.6 243.7L240.6 244.6"/>
<path d="M237.8 251.7L238.7 252.7L239.5 253.8L240.7 254.5L241.4 255.9L243.3 255.5L243.6 257.5L242.7 256.8L241.3 256.8L240.0 257.0"/>
<path d="M233.2 252.9L233.9 254.0L234.6 255.0L234.5 256.5L235.5 257.4L236.6 258.1L237.7 258.7"/>
<path d="M226.3 257.5L227.6 258.2L227.9 259.7L228.9 260.7L229.5 262.0L230.6 262.9L231.6 263.9L233.0 263.7L234.3 264.1"/>
<path d="M217.2 265.5L218.6 265.4L219.3 267.0L220.3 267.9L221.8 267.3L222.7 268.4L224.2 267.9L225.4 268.5L226.6 269.3L228.1 268.4"/>
<path d="M214.9 279.2L215.9 279.8L217.0 280.3L218.2 280.3L219.3 280.8L220.7 279.7L221.7 279.6L222.5 278.5L223.4 277.5L225.0 277.3L225.4 276.0L227.0 276.2"/>
<path d="M224.6 280.3L225.9 280.6L227.2 279.7L228.5 279.8L229.7 280.5L230.5 279.4L232.1 279.3L232.9 278.4L233.9 277.3L234.2 275.7"/>
<path d="M226.3 281.5L226.0 282.8L227.2 283.7L227.2 284.9L228.0 285.9"/>
<path d="M212.6 294.1L213.7 293.6L214.9 293.9L215.9 292.7L217.3 294.1L218.4 293.6L219.6 293.7L220.7 292.1L222.0 291.6L223.2 290.9L224.7 290.6L226.1 289.9"/>
<path d="M213.7 271.2L215.3 271.4L215.9 272.8L216.7 274.1L218.5 272.9L220.0 273.0"/>
<path d="M117.7 297.3L117.1 298.4L116.6 299.5L115.9 300.5L115.6 301.7L114.0 301.8L113.9 303.7L112.6 304.0L111.5 305.2L111.4 306.7L111.5 308.1L113.1 308.2L113.6 309.1L114.3 309.9L112.6 310.2L111.6 309.7L111.1 308.4L109.9 308.2L109.3 307.1L107.9 307.5L107.2 308.2L106.9 309.3L107.1 310.9L106.6 311.9L105.2 312.6L106.7 313.9L105.9 315.3L107.3 316.1L106.3 317.4L105.5 318.4L104.1 319.1L103.8 320.0L102.9 320.7L102.8 322.1L102.2 323.0L100.7 323.4L100.5 324.7L101.4 325.6L102.9 325.0L103.9 325.4L104.5 326.5L105.6 326.0L106.9 325.6L108.4 326.3L108.7 327.2L110.5 326.9L111.6 327.5L110.0 328.9L108.9 329.2L107.5 328.4L106.4 329.3L104.8 329.1L105.1 331.4L103.5 331.3L102.7 332.5L101.0 331.7L100.3 333.0L99.8 334.0L98.5 334.3L97.3 334.7L99.1 334.6L99.9 335.4L100.4 337.0L101.7 336.5L102.8 335.7L104.3 337.2L105.5 337.0L106.6 335.7L107.8 334.9L109.0 334.3L108.2 335.9L107.6 336.8L107.0 337.8L106.5 338.8L107.9 339.7L108.7 340.6L109.1 341.9L108.1 341.0L106.8 341.4L105.7 341.1L104.4 341.1L103.3 341.7L102.4 342.6L103.0 344.4L102.7 345.7L103.7 346.5L105.1 346.9L104.6 348.2L103.2 348.4L102.7 349.5L102.0 350.2L100.6 350.3L99.8 351.0L99.4 352.2L98.8 353.2L98.7 354.4L98.2 355.3L96.4 355.1"/>
<path d="M98.8 341.8L100.5 340.1L101.2 342.1L101.6 343.7L100.5 344.9L99.9 346.4L98.4 345.3L98.7 344.4L98.3 343.0L99.2 341.9"/>
<path d="M96.9 322.9L98.3 321.9L100.0 321.3L99.6 319.6L100.2 318.4L100.2 317.1L98.7 318.0L98.4 319.7L97.6 321.1"/>
<path d="M96.4 327.6L97.7 328.8L99.0 329.9L99.0 331.2L98.4 332.6L96.5 332.9L96.1 334.4"/>
<path d="M96.9 338.0L98.3 337.5L99.8 337.7L99.6 339.3L98.4 340.8"/>
<path d="M321.9 313.7L320.2 314.8L319.2 312.7L318.5 311.7L316.8 312.1L315.0 312.3L314.1 313.4L313.5 314.2L312.4 315.4L310.2 314.1L309.7 313.3L308.3 314.6L307.6 314.4L306.3 315.0L305.3 313.5L303.9 313.7L302.9 315.2L302.2 315.7L300.0 314.9L299.6 317.0L300.2 317.9L301.9 316.5L303.7 316.2L304.5 317.2L305.4 318.7L307.1 318.5L308.0 317.6L309.4 318.2L310.3 316.3L311.8 317.6L312.5 316.8L313.9 316.4L315.4 316.4L316.0 318.5L317.7 317.6L318.5 319.0L317.2 319.8L315.9 319.0L316.1 321.8L313.7 321.2L312.8 321.8L312.1 323.2L310.6 322.6L310.6 324.9L309.5 325.1"/>
<path d="M352.8 300.0L353.9 301.0L354.4 302.4L354.9 304.0L356.0 304.6L356.9 305.1L357.5 306.5L358.7 306.5L360.6 305.5L360.8 307.6L362.4 306.7L362.7 308.4L364.1 307.3L365.6 307.9L366.7 307.1L367.3 307.0L367.7 305.3L369.9 306.4L369.7 304.0L371.0 303.5L372.0 303.8L373.4 303.9L374.4 302.4L376.2 303.6L376.9 303.1L376.7 300.2L378.8 301.3L378.8 300.0L381.2 301.3L381.8 300.5L381.9 298.4L382.7 297.5L384.8 298.1L386.0 298.8L386.4 296.2L386.6 295.2L388.7 296.7L390.2 297.2L391.1 296.3"/>
<path d="M344.2 280.3L343.3 281.6L343.7 283.0L344.5 284.5L344.2 285.8L344.0 287.2L343.6 288.6L344.0 290.0L344.0 291.5L344.6 292.8L345.2 294.1L345.3 295.6L347.2 295.4L348.6 296.2L347.9 298.0L350.7 297.8L351.3 298.5L351.6 300.7"/>
<path d="M353.6 302.6L354.4 303.2L356.0 302.8L357.4 302.5L357.4 305.6L359.2 305.7L360.6 303.8"/>
<path d="M123.3 233.2L124.6 233.3L126.0 233.3L125.7 234.1L126.6 235.0L127.5 235.9L126.5 237.2L125.7 238.1L125.4 239.4L124.5 238.4L123.6 237.5L123.3 236.8L124.1 235.8L124.6 234.9L123.8 234.2L123.7 233.1"/>
<path d="M158.8 274.8L159.6 276.0L159.4 277.3L159.6 278.7L158.8 279.6L158.7 280.9L158.3 282.1L158.1 283.1L158.2 284.3L156.8 285.1L157.4 286.3L155.7 287.0L156.3 285.9L155.6 284.8L155.6 283.7L156.7 283.0L156.5 281.5L155.1 280.8L155.5 279.2L156.0 278.8L156.1 277.6L156.4 276.7L157.7 276.1L159.0 275.1"/>
</g>
<g stroke="#000" stroke-width="1" fill="none">
<path d="M95.5 197.5V630.5M516.5 197.5V630.5"/>
<path d="M95 198H517M95 522H517M95 603H517M95 630H517" stroke-width="1.15"/>
</g>
<text x="193.6" y="206.3" font-size="10.9" fill="#4a84c4" text-anchor="middle" textLength="6.9" lengthAdjust="spacingAndGlyphs">0</text>
<text x="263.4" y="219.4" font-size="10.9" fill="#4a84c4" text-anchor="middle" textLength="13.3" lengthAdjust="spacingAndGlyphs">10</text>
<text x="334.4" y="223.3" font-size="10.9" fill="#4a84c4" text-anchor="middle" textLength="13.3" lengthAdjust="spacingAndGlyphs">20</text>
<text x="406.6" y="217.3" font-size="10.9" fill="#4a84c4" text-anchor="middle" textLength="13.3" lengthAdjust="spacingAndGlyphs">30</text>
<text x="476.6" y="199.6" font-size="10.9" fill="#4a84c4" text-anchor="middle" textLength="13.3" lengthAdjust="spacingAndGlyphs">40</text>
<text x="377.2" y="308.5" font-size="10.9" fill="#4a84c4" text-anchor="middle" textLength="13.3" lengthAdjust="spacingAndGlyphs">60</text>
<text x="392.1" y="476.9" font-size="10.9" fill="#4a84c4" text-anchor="middle" textLength="13.3" lengthAdjust="spacingAndGlyphs">50</text>
<text x="398" y="386.5" font-size="7.5" fill="#4a84c4" text-anchor="middle">7</text>
<text x="390.3" y="404.2" font-size="7.5" fill="#4a84c4" text-anchor="middle">6</text>
<g stroke="#a0a0a0" stroke-width="0.8" stroke-dasharray="6.3 5.7" fill="none">
<path d="M137.5 538.5H475"/>
<path d="M137.5 554.3H475"/>
<path d="M137.5 570.3H475"/>
<path d="M137.5 586.3H475"/>
</g>
<g stroke="#555" stroke-width="0.6">
<path d="M184.2 603V608.5"/>
<path d="M224.7 603V608.5"/>
<path d="M265.3 603V608.5"/>
<path d="M305.9 603V608.5"/>
<path d="M346.4 603V608.5"/>
<path d="M387.0 603V608.5"/>
<path d="M427.6 603V608.5"/>
<path d="M468.2 603V608.5"/>
</g>
<path d="M143.6 594.3C150.4 594.0 170.6 592.9 184.2 592.6C197.7 592.3 211.2 592.4 224.7 592.3C238.3 592.2 251.8 592.5 265.3 592.2C278.8 591.9 292.4 590.4 305.9 590.5C319.4 590.6 332.9 591.6 346.4 592.8C360.0 594.0 373.5 596.9 387.0 597.5C400.5 598.1 414.1 596.7 427.6 596.2C441.1 595.7 461.4 594.6 468.2 594.3" fill="none" stroke="#ff0000" stroke-width="1.25" stroke-linecap="round" stroke-linejoin="round" />
<path d="M143.6 594.3C150.4 594.4 170.6 594.8 184.2 595.0C197.7 595.2 211.2 595.7 224.7 595.6C238.3 595.5 251.8 594.6 265.3 594.2C278.8 593.8 292.4 592.9 305.9 593.0C319.4 593.1 332.9 594.3 346.4 595.0C360.0 595.7 373.5 596.6 387.0 597.0C400.5 597.4 414.1 597.8 427.6 597.4C441.1 597.0 461.4 595.1 468.2 594.6" fill="none" stroke="#ff0000" stroke-width="1.25" stroke-linecap="round" stroke-linejoin="round" />
<path d="M143.6 594.3C150.4 595.3 170.6 599.5 184.2 600.5C197.7 601.5 211.2 600.6 224.7 600.6C238.3 600.6 251.8 600.9 265.3 600.8C278.8 600.7 292.4 600.0 305.9 600.2C319.4 600.4 332.9 601.5 346.4 602.0C360.0 602.5 373.5 602.7 387.0 602.9C400.5 603.1 414.1 603.0 427.6 603.0C441.1 603.0 461.4 603.0 468.2 603.0" fill="none" stroke="#ff0000" stroke-width="1.25" stroke-linecap="round" stroke-linejoin="round" />
<path d="M184.2 589.6L187.0 594.6L181.4 594.6Z" fill="#ff0000"/>
<path d="M224.7 589.3L227.5 594.3L221.9 594.3Z" fill="#ff0000"/>
<path d="M265.3 589.2L268.1 594.2L262.5 594.2Z" fill="#ff0000"/>
<path d="M305.9 586.3L309.8 593.3L302.0 593.3Z" fill="#ff0000"/>
<path d="M346.4 589.8L349.2 594.8L343.6 594.8Z" fill="#ff0000"/>
<path d="M387.0 594.5L389.8 599.5L384.2 599.5Z" fill="#ff0000"/>
<path d="M427.6 593.2L430.4 598.2L424.8 598.2Z" fill="#ff0000"/>
<path d="M468.2 590.1L472.1 597.1L464.3 597.1Z" fill="#ff0000"/>
<path d="M184.2 592.0L187.0 597.0L181.4 597.0Z" fill="#ff0000"/>
<path d="M224.7 592.6L227.5 597.6L221.9 597.6Z" fill="#ff0000"/>
<path d="M265.3 591.2L268.1 596.2L262.5 596.2Z" fill="#ff0000"/>
<path d="M305.9 588.8L309.8 595.8L302.0 595.8Z" fill="#ff0000"/>
<path d="M346.4 592.0L349.2 597.0L343.6 597.0Z" fill="#ff0000"/>
<path d="M387.0 594.0L389.8 599.0L384.2 599.0Z" fill="#ff0000"/>
<path d="M427.6 594.4L430.4 599.4L424.8 599.4Z" fill="#ff0000"/>
<path d="M468.2 590.4L472.1 597.4L464.3 597.4Z" fill="#ff0000"/>
<path d="M184.2 597.5L187.0 602.5L181.4 602.5Z" fill="#ff0000"/>
<path d="M224.7 597.6L227.5 602.6L221.9 602.6Z" fill="#ff0000"/>
<path d="M265.3 597.8L268.1 602.8L262.5 602.8Z" fill="#ff0000"/>
<path d="M305.9 596.0L309.8 603.0L302.0 603.0Z" fill="#ff0000"/>
<path d="M346.4 599.0L349.2 604.0L343.6 604.0Z" fill="#ff0000"/>
<path d="M387.0 599.9L389.8 604.9L384.2 604.9Z" fill="#ff0000"/>
<path d="M427.6 600.0L430.4 605.0L424.8 605.0Z" fill="#ff0000"/>
<path d="M468.2 598.8L472.1 605.8L464.3 605.8Z" fill="#ff0000"/>
<path d="M143.6 578.3C150.4 578.4 170.6 580.1 184.2 578.9C197.7 577.7 211.2 573.1 224.7 571.0C238.3 568.9 251.8 568.0 265.3 566.1C278.8 564.2 292.4 561.1 305.9 559.6C319.4 558.1 332.9 558.1 346.4 557.0C360.0 555.9 373.5 554.6 387.0 553.2C400.5 551.9 414.1 550.2 427.6 548.9C441.1 547.6 461.4 546.0 468.2 545.4" fill="none" stroke="#0000ff" stroke-width="1.25" stroke-linecap="round" stroke-linejoin="round" />
<path d="M143.6 578.3C150.4 578.4 170.6 579.1 184.2 578.9C197.7 578.7 211.2 577.8 224.7 577.3C238.3 576.8 251.8 576.9 265.3 575.9C278.8 574.9 292.4 572.4 305.9 571.3C319.4 570.1 336.3 570.0 346.4 569.0C356.6 568.0 360.9 565.4 366.5 565.4C372.1 565.4 376.6 567.8 380.0 569.0C383.4 570.2 384.5 571.5 387.0 572.7C389.5 574.0 392.4 575.5 395.0 576.5C397.6 577.5 399.1 577.9 402.4 578.6C405.7 579.3 410.8 580.0 415.0 580.5C419.2 581.0 418.7 581.4 427.6 581.7C436.4 582.0 461.4 582.4 468.2 582.5" fill="none" stroke="#0000ff" stroke-width="1.25" stroke-linecap="round" stroke-linejoin="round" />
<path d="M143.6 578.3C150.4 579.6 174.0 584.5 184.2 586.3C194.3 588.0 197.7 588.2 204.5 588.8C211.2 589.3 214.6 589.2 224.7 589.6C234.9 590.0 251.8 590.8 265.3 591.2C278.8 591.6 292.4 591.0 305.9 592.0C319.4 593.0 332.9 596.0 346.4 597.1C360.0 598.2 373.5 598.3 387.0 598.4C400.5 598.5 414.1 598.0 427.6 597.5C441.1 597.0 461.4 595.8 468.2 595.4" fill="none" stroke="#0000ff" stroke-width="1.25" stroke-linecap="round" stroke-linejoin="round" />
<rect x="182.0" y="576.7" width="4.4" height="4.4" fill="#0000ff"/>
<rect x="222.5" y="568.8" width="4.4" height="4.4" fill="#0000ff"/>
<rect x="263.1" y="563.9" width="4.4" height="4.4" fill="#0000ff"/>
<rect x="302.5" y="556.2" width="6.8" height="6.8" fill="#0000ff"/>
<rect x="344.2" y="554.8" width="4.4" height="4.4" fill="#0000ff"/>
<rect x="384.8" y="551.0" width="4.4" height="4.4" fill="#0000ff"/>
<rect x="425.4" y="546.7" width="4.4" height="4.4" fill="#0000ff"/>
<rect x="464.8" y="542.0" width="6.8" height="6.8" fill="#0000ff"/>
<rect x="182.0" y="576.7" width="4.4" height="4.4" fill="#0000ff"/>
<rect x="222.5" y="575.1" width="4.4" height="4.4" fill="#0000ff"/>
<rect x="263.1" y="573.7" width="4.4" height="4.4" fill="#0000ff"/>
<rect x="302.5" y="567.9" width="6.8" height="6.8" fill="#0000ff"/>
<rect x="344.2" y="566.8" width="4.4" height="4.4" fill="#0000ff"/>
<rect x="384.8" y="570.5" width="4.4" height="4.4" fill="#0000ff"/>
<rect x="425.4" y="579.5" width="4.4" height="4.4" fill="#0000ff"/>
<rect x="464.8" y="579.1" width="6.8" height="6.8" fill="#0000ff"/>
<rect x="182.0" y="584.1" width="4.4" height="4.4" fill="#0000ff"/>
<rect x="222.5" y="587.4" width="4.4" height="4.4" fill="#0000ff"/>
<rect x="263.1" y="589.0" width="4.4" height="4.4" fill="#0000ff"/>
<rect x="302.5" y="588.6" width="6.8" height="6.8" fill="#0000ff"/>
<rect x="344.2" y="594.9" width="4.4" height="4.4" fill="#0000ff"/>
<rect x="384.8" y="596.2" width="4.4" height="4.4" fill="#0000ff"/>
<rect x="425.4" y="595.3" width="4.4" height="4.4" fill="#0000ff"/>
<rect x="464.8" y="592.0" width="6.8" height="6.8" fill="#0000ff"/>
<path d="M143.6 554.3C150.4 553.3 170.6 550.2 184.2 548.1C197.7 546.0 211.2 543.4 224.7 541.6C238.3 539.8 251.8 537.9 265.3 537.1C278.8 536.3 295.7 536.5 305.9 536.8C316.0 537.1 319.4 538.4 326.2 538.8C332.9 539.2 336.3 540.0 346.4 539.3C356.6 538.6 373.5 535.5 387.0 534.6C400.5 533.7 414.1 534.8 427.6 534.0C441.1 533.2 461.4 530.5 468.2 529.8" fill="none" stroke="#00ff00" stroke-width="1.25" stroke-linecap="round" stroke-linejoin="round" />
<path d="M143.6 554.3C150.4 553.9 170.6 552.3 184.2 551.8C197.7 551.3 211.2 552.3 224.7 551.4C238.3 550.5 251.8 547.4 265.3 546.1C278.8 544.8 295.7 544.5 305.9 543.4C316.0 542.2 319.4 540.2 326.2 539.2C332.9 538.2 336.3 538.4 346.4 537.4C356.6 536.4 373.5 534.0 387.0 533.4C400.5 532.8 414.1 534.1 427.6 534.0C441.1 533.9 461.4 532.8 468.2 532.6" fill="none" stroke="#00ff00" stroke-width="1.25" stroke-linecap="round" stroke-linejoin="round" />
<path d="M143.6 554.3C150.4 555.1 170.6 558.6 184.2 559.3C197.7 560.0 211.2 558.2 224.7 558.3C238.3 558.4 251.8 559.3 265.3 559.8C278.8 560.2 292.4 559.5 305.9 561.0C319.4 562.5 332.9 567.0 346.4 569.1C360.0 571.2 373.5 573.8 387.0 573.9C400.5 574.0 414.1 570.0 427.6 570.0C441.1 570.0 461.4 573.4 468.2 574.1" fill="none" stroke="#00ff00" stroke-width="1.25" stroke-linecap="round" stroke-linejoin="round" />
<circle cx="184.2" cy="548.1" r="2.20" fill="#00ff00"/>
<circle cx="224.7" cy="541.6" r="2.20" fill="#00ff00"/>
<circle cx="265.3" cy="537.1" r="2.20" fill="#00ff00"/>
<circle cx="305.9" cy="536.8" r="3.60" fill="#00ff00"/>
<circle cx="346.4" cy="539.3" r="2.20" fill="#00ff00"/>
<circle cx="387.0" cy="534.6" r="2.20" fill="#00ff00"/>
<circle cx="427.6" cy="534.0" r="2.20" fill="#00ff00"/>
<circle cx="468.2" cy="529.8" r="3.60" fill="#00ff00"/>
<circle cx="184.2" cy="551.8" r="2.20" fill="#00ff00"/>
<circle cx="224.7" cy="551.4" r="2.20" fill="#00ff00"/>
<circle cx="265.3" cy="546.1" r="2.20" fill="#00ff00"/>
<circle cx="305.9" cy="543.4" r="3.60" fill="#00ff00"/>
<circle cx="346.4" cy="537.4" r="2.20" fill="#00ff00"/>
<circle cx="387.0" cy="533.4" r="2.20" fill="#00ff00"/>
<circle cx="427.6" cy="534.0" r="2.20" fill="#00ff00"/>
<circle cx="468.2" cy="532.6" r="3.60" fill="#00ff00"/>
<circle cx="184.2" cy="559.3" r="2.20" fill="#00ff00"/>
<circle cx="224.7" cy="558.3" r="2.20" fill="#00ff00"/>
<circle cx="265.3" cy="559.8" r="2.20" fill="#00ff00"/>
<circle cx="305.9" cy="561.0" r="3.60" fill="#00ff00"/>
<circle cx="346.4" cy="569.1" r="2.20" fill="#00ff00"/>
<circle cx="387.0" cy="573.9" r="2.20" fill="#00ff00"/>
<circle cx="427.6" cy="570.0" r="2.20" fill="#00ff00"/>
<circle cx="468.2" cy="574.1" r="3.60" fill="#00ff00"/>
<path d="M143.6 549.0L145.0 552.4L148.6 552.7L145.9 555.0L146.7 558.6L143.6 556.7L140.5 558.6L141.3 555.0L138.6 552.7L142.2 552.4Z" fill="#000" stroke="none"/>
<circle cx="143.6" cy="554.5" r="0.9" fill="#fff"/>
<path d="M143.6 573.0L145.0 576.4L148.6 576.7L145.9 579.0L146.7 582.6L143.6 580.7L140.5 582.6L141.3 579.0L138.6 576.7L142.2 576.4Z" fill="#000" stroke="none"/>
<circle cx="143.6" cy="578.5" r="0.9" fill="#fff"/>
<path d="M143.6 589.1L145.0 592.5L148.6 592.8L145.9 595.1L146.7 598.7L143.6 596.8L140.5 598.7L141.3 595.1L138.6 592.8L142.2 592.5Z" fill="#000" stroke="none"/>
<circle cx="143.6" cy="594.6" r="0.9" fill="#fff"/>
<path d="M143.6 554.3L149.6 553.4" fill="none" stroke="#00ff00" stroke-width="1.25" stroke-linecap="round" stroke-linejoin="round" />
<path d="M143.6 554.3L149.6 553.9" fill="none" stroke="#00ff00" stroke-width="1.25" stroke-linecap="round" stroke-linejoin="round" />
<path d="M143.6 554.3L149.6 555.0" fill="none" stroke="#00ff00" stroke-width="1.25" stroke-linecap="round" stroke-linejoin="round" />
<path d="M143.6 578.3L149.6 578.4" fill="none" stroke="#0000ff" stroke-width="1.25" stroke-linecap="round" stroke-linejoin="round" />
<path d="M143.6 578.3L149.6 578.4" fill="none" stroke="#0000ff" stroke-width="1.25" stroke-linecap="round" stroke-linejoin="round" />
<path d="M143.6 578.3L149.6 579.5" fill="none" stroke="#0000ff" stroke-width="1.25" stroke-linecap="round" stroke-linejoin="round" />
<path d="M143.6 594.3L149.6 594.0" fill="none" stroke="#ff0000" stroke-width="1.25" stroke-linecap="round" stroke-linejoin="round" />
<path d="M143.6 594.3L149.6 594.4" fill="none" stroke="#ff0000" stroke-width="1.25" stroke-linecap="round" stroke-linejoin="round" />
<path d="M143.6 594.3L149.6 595.2" fill="none" stroke="#ff0000" stroke-width="1.25" stroke-linecap="round" stroke-linejoin="round" />
<path d="M320.6 396.6L322.0 400.0L325.6 400.3L322.9 402.6L323.7 406.2L320.6 404.3L317.5 406.2L318.3 402.6L315.6 400.3L319.2 400.0Z" fill="#000" stroke="none"/>
<circle cx="320.6" cy="402.1" r="0.9" fill="#fff"/>
<path d="M345.7 433.4L347.1 436.8L350.7 437.1L348.0 439.4L348.8 443.0L345.7 441.1L342.6 443.0L343.4 439.4L340.7 437.1L344.3 436.8Z" fill="#000" stroke="none"/>
<circle cx="345.7" cy="438.9" r="0.9" fill="#fff"/>
<path d="M356.5 472.2L357.9 475.6L361.5 475.9L358.8 478.2L359.6 481.8L356.5 479.9L353.4 481.8L354.2 478.2L351.5 475.9L355.1 475.6Z" fill="#000" stroke="none"/>
<circle cx="356.5" cy="477.7" r="0.9" fill="#fff"/>
<path d="M320.6 401.6C322.2 400.8 326.9 398.5 330.0 396.8C333.1 395.1 336.3 393.4 339.2 391.4C342.1 389.4 344.8 387.4 347.5 385.0C350.2 382.6 353.1 380.1 355.5 377.3C357.9 374.6 360.1 371.4 362.0 368.5C363.9 365.6 364.9 363.5 366.7 360.0C368.5 356.5 370.8 351.3 373.0 347.6C375.2 343.9 376.9 341.5 380.0 337.8C383.1 334.1 388.3 329.0 391.5 325.7C394.7 322.4 396.5 320.4 399.1 318.0C401.7 315.6 404.3 313.3 407.0 311.0C409.7 308.7 411.6 307.5 415.3 304.0C419.0 300.5 425.8 293.6 429.3 290.0C432.9 286.4 434.6 284.8 436.6 282.6C438.6 280.4 440.4 278.6 441.5 277.0C442.6 275.4 442.8 274.8 443.4 273.0C444.0 271.2 445.0 268.1 445.2 266.0C445.4 263.9 445.6 263.1 444.7 260.6C443.8 258.1 441.4 254.4 439.6 251.0C437.8 247.6 435.9 243.7 434.0 240.0C432.1 236.3 429.4 230.8 428.5 229.0" fill="none" stroke="#ff0000" stroke-width="1.7" stroke-linecap="round" stroke-linejoin="round" />
<path d="M345.7 438.4C347.4 437.2 352.4 433.7 356.0 431.0C359.6 428.3 363.0 425.5 367.0 422.0C371.0 418.5 376.1 414.8 380.0 410.0C383.9 405.2 387.4 398.5 390.2 393.3C392.9 388.1 394.4 383.7 396.5 379.0C398.6 374.3 400.4 369.4 402.8 365.0C405.2 360.6 408.0 357.2 410.9 352.5C413.8 347.8 417.3 341.5 420.0 337.0C422.7 332.5 424.4 329.5 427.0 325.3C429.6 321.1 433.1 315.7 435.5 312.0C437.9 308.3 439.8 306.5 441.3 303.2C442.8 299.9 443.7 295.4 444.5 292.0C445.3 288.6 445.7 286.7 446.2 283.0C446.7 279.3 447.6 273.2 447.6 269.7C447.7 266.2 447.2 264.1 446.5 262.0C445.8 259.9 444.6 258.8 443.5 257.0C442.4 255.2 440.2 252.0 439.6 251.0" fill="none" stroke="#ff0000" stroke-width="1.7" stroke-linecap="round" stroke-linejoin="round" />
<path d="M356.5 477.2C358.4 475.7 364.3 471.1 368.0 468.0C371.7 464.9 375.9 461.1 378.5 458.5C381.1 455.9 382.0 455.8 383.7 452.2C385.4 448.6 386.9 440.8 388.5 436.8C390.1 432.8 391.7 430.8 393.0 428.0C394.3 425.2 394.8 422.9 396.5 420.0C398.2 417.1 401.2 414.1 403.2 410.8C405.2 407.5 407.1 402.7 408.4 400.0C409.7 397.3 410.4 395.7 411.2 394.4C412.0 393.1 412.2 393.0 413.2 392.0C414.2 391.0 415.9 389.4 417.2 388.5C418.5 387.6 419.8 386.9 421.0 386.3C422.2 385.7 423.6 385.0 424.6 385.0C425.6 385.0 426.1 385.7 426.8 386.5C427.5 387.3 427.6 388.6 428.6 389.6C429.6 390.6 431.5 391.7 432.6 392.5C433.7 393.3 434.6 394.2 435.0 394.5" fill="none" stroke="#ff0000" stroke-width="1.7" stroke-linecap="round" stroke-linejoin="round" />
<path d="M320.6 401.6C324.1 397.7 336.4 385.1 341.8 378.2C347.2 371.3 350.3 364.5 353.0 360.0C355.7 355.5 356.2 354.8 357.8 351.0C359.4 347.2 361.4 342.0 362.5 337.0C363.6 332.0 364.4 326.5 364.7 321.2C365.0 315.9 364.9 310.2 364.3 305.0C363.7 299.8 362.4 295.0 361.3 290.2C360.2 285.4 359.3 280.4 357.5 276.0C355.7 271.6 353.1 267.6 350.5 263.5C347.9 259.4 345.2 255.2 342.0 251.5C338.8 247.8 334.6 244.2 331.0 241.0C327.4 237.8 324.1 235.0 320.5 232.5C316.9 230.0 313.6 228.3 309.2 226.2C304.8 224.1 299.1 221.5 294.0 219.7C288.9 217.9 281.0 215.9 278.4 215.2" fill="none" stroke="#0000ff" stroke-width="1.7" stroke-linecap="round" stroke-linejoin="round" />
<path d="M345.7 438.4C349.0 434.8 359.7 424.1 365.3 416.5C370.9 408.9 375.5 399.2 379.4 393.0C383.3 386.8 386.3 382.7 388.8 379.0C391.3 375.3 392.6 374.3 394.4 371.0C396.2 367.7 398.2 363.3 399.5 359.0C400.8 354.7 401.7 349.1 402.4 345.4C403.1 341.7 403.4 339.7 403.6 337.0C403.8 334.3 403.6 332.1 403.5 329.4C403.4 326.7 403.0 323.3 402.9 321.0C402.8 318.7 402.8 317.5 402.8 315.7C402.8 313.9 402.8 311.2 402.8 310.3" fill="none" stroke="#0000ff" stroke-width="1.7" stroke-linecap="round" stroke-linejoin="round" />
<path d="M356.5 477.2C358.2 475.5 363.4 470.4 367.0 467.0C370.6 463.6 374.8 460.9 377.9 457.1C381.0 453.4 382.9 448.9 385.5 444.5C388.1 440.1 390.8 435.0 393.4 430.9C396.0 426.8 398.7 423.0 400.9 420.0C403.1 417.0 404.9 415.7 406.8 413.1C408.7 410.5 410.9 406.5 412.2 404.2C413.5 401.9 412.7 400.3 414.6 399.2C416.5 398.1 420.8 397.9 423.7 397.6C426.6 397.3 429.4 397.4 432.3 397.4C435.2 397.4 438.0 397.6 441.0 397.4C444.0 397.2 448.8 396.4 450.3 396.2" fill="none" stroke="#0000ff" stroke-width="1.7" stroke-linecap="round" stroke-linejoin="round" />
<path d="M320.6 401.6C321.2 400.2 323.0 397.0 324.5 393.3C326.0 389.6 328.1 384.9 329.4 379.6C330.7 374.3 331.8 367.9 332.4 361.3C333.0 354.7 333.5 346.6 333.3 340.0C333.1 333.4 332.4 328.3 331.0 321.6C329.6 314.9 327.3 306.4 325.0 300.0C322.7 293.6 319.7 288.0 317.2 283.5C314.7 279.0 312.6 275.9 310.0 273.0C307.4 270.1 304.4 268.4 301.6 266.4C298.8 264.3 295.7 262.2 293.0 260.7C290.3 259.2 289.1 258.8 285.3 257.3C281.5 255.8 275.6 253.0 270.0 251.5C264.4 250.0 257.8 248.8 251.6 248.3C245.4 247.9 238.7 248.1 233.0 248.8C227.3 249.5 222.2 250.6 217.5 252.3C212.8 254.0 209.0 256.5 205.0 259.0C201.0 261.5 197.5 264.4 193.5 267.5C189.5 270.6 184.8 274.4 181.0 277.5C177.2 280.6 172.2 284.8 170.5 286.3" fill="none" stroke="#00ff00" stroke-width="1.7" stroke-linecap="round" stroke-linejoin="round" />
<path d="M345.7 438.4C346.3 435.7 348.4 427.3 349.5 422.0C350.6 416.7 351.3 411.5 352.0 406.5C352.7 401.5 353.0 396.9 353.5 392.0C354.0 387.1 354.4 382.6 354.9 377.3C355.4 372.0 356.4 365.2 356.6 360.0C356.9 354.8 357.0 351.1 356.4 346.3C355.8 341.5 354.5 335.8 353.0 331.0C351.5 326.2 349.7 322.1 347.6 317.3C345.5 312.5 343.1 306.8 340.5 302.0C337.9 297.2 335.4 292.8 331.7 288.3C327.9 283.8 323.0 278.6 318.0 275.0C313.0 271.4 307.1 269.2 301.6 266.4C296.2 263.6 290.8 260.2 285.3 258.3C279.8 256.4 274.5 255.9 268.6 255.2C262.7 254.5 256.3 254.1 250.0 254.3C243.7 254.5 234.2 256.0 231.0 256.3" fill="none" stroke="#00ff00" stroke-width="1.7" stroke-linecap="round" stroke-linejoin="round" />
<path d="M356.5 477.2C359.0 473.0 366.6 459.4 371.3 451.9C376.0 444.4 381.2 437.6 384.6 432.1C388.0 426.6 389.7 423.0 391.5 419.0C393.3 415.0 394.7 411.7 395.5 408.2C396.3 404.7 396.2 400.7 396.3 398.0C396.4 395.3 396.1 393.6 395.8 392.0C395.5 390.4 395.0 389.7 394.5 388.2C394.0 386.7 393.4 384.4 392.8 383.2C392.2 382.0 391.3 381.1 390.6 381.2C389.9 381.2 389.1 382.5 388.8 383.5C388.5 384.5 389.0 385.2 388.6 387.0C388.2 388.8 387.4 391.8 386.5 394.0C385.6 396.2 384.0 399.2 383.5 400.3" fill="none" stroke="#00ff00" stroke-width="1.7" stroke-linecap="round" stroke-linejoin="round" />
<path d="M355.5 374.3L358.3 379.3L352.7 379.3Z" fill="#ff0000"/>
<path d="M373.0 344.6L375.8 349.6L370.2 349.6Z" fill="#ff0000"/>
<path d="M391.5 322.7L394.3 327.7L388.7 327.7Z" fill="#ff0000"/>
<path d="M415.3 299.8L419.2 306.8L411.4 306.8Z" fill="#ff0000"/>
<path d="M436.6 279.6L439.4 284.6L433.8 284.6Z" fill="#ff0000"/>
<path d="M445.2 261.5L448.0 266.5L442.4 266.5Z" fill="#ff0000"/>
<path d="M439.6 246.8L443.5 253.8L435.7 253.8Z" fill="#ff0000"/>
<path d="M428.5 224.8L432.4 231.8L424.6 231.8Z" fill="#ff0000"/>
<path d="M380.0 407.0L382.8 412.0L377.2 412.0Z" fill="#ff0000"/>
<path d="M396.7 376.0L399.5 381.0L393.9 381.0Z" fill="#ff0000"/>
<path d="M410.9 349.5L413.7 354.5L408.1 354.5Z" fill="#ff0000"/>
<path d="M427.0 321.1L430.9 328.1L423.1 328.1Z" fill="#ff0000"/>
<path d="M441.3 300.2L444.1 305.2L438.5 305.2Z" fill="#ff0000"/>
<path d="M446.2 280.0L449.0 285.0L443.4 285.0Z" fill="#ff0000"/>
<path d="M447.6 266.7L450.4 271.7L444.8 271.7Z" fill="#ff0000"/>
<path d="M439.6 246.8L443.5 253.8L435.7 253.8Z" fill="#ff0000"/>
<path d="M383.7 449.2L386.5 454.2L380.9 454.2Z" fill="#ff0000"/>
<path d="M393.0 425.0L395.8 430.0L390.2 430.0Z" fill="#ff0000"/>
<path d="M403.2 407.8L406.0 412.8L400.4 412.8Z" fill="#ff0000"/>
<path d="M413.2 387.7L417.1 394.7L409.3 394.7Z" fill="#ff0000"/>
<path d="M424.6 382.2L427.4 387.2L421.8 387.2Z" fill="#ff0000"/>
<path d="M428.8 386.8L431.6 391.8L426.0 391.8Z" fill="#ff0000"/>
<path d="M433.2 388.8L437.1 395.8L429.3 395.8Z" fill="#ff0000"/>
<rect x="339.6" y="375.9" width="4.5" height="4.5" fill="#0000ff"/>
<rect x="355.6" y="348.8" width="4.5" height="4.5" fill="#0000ff"/>
<rect x="362.4" y="318.9" width="4.5" height="4.5" fill="#0000ff"/>
<rect x="357.9" y="286.8" width="6.9" height="6.9" fill="#0000ff"/>
<rect x="348.2" y="261.2" width="4.5" height="4.5" fill="#0000ff"/>
<rect x="328.8" y="238.8" width="4.5" height="4.5" fill="#0000ff"/>
<rect x="306.9" y="223.9" width="4.5" height="4.5" fill="#0000ff"/>
<rect x="274.9" y="211.8" width="6.9" height="6.9" fill="#0000ff"/>
<rect x="363.1" y="414.2" width="4.5" height="4.5" fill="#0000ff"/>
<rect x="377.1" y="390.8" width="4.5" height="4.5" fill="#0000ff"/>
<rect x="392.1" y="368.8" width="4.5" height="4.5" fill="#0000ff"/>
<rect x="398.9" y="341.9" width="6.9" height="6.9" fill="#0000ff"/>
<rect x="401.2" y="327.1" width="4.5" height="4.5" fill="#0000ff"/>
<rect x="400.6" y="313.4" width="4.5" height="4.5" fill="#0000ff"/>
<rect x="399.4" y="306.9" width="6.9" height="6.9" fill="#0000ff"/>
<rect x="375.6" y="454.9" width="4.5" height="4.5" fill="#0000ff"/>
<rect x="391.1" y="428.6" width="4.5" height="4.5" fill="#0000ff"/>
<rect x="404.6" y="410.9" width="4.5" height="4.5" fill="#0000ff"/>
<rect x="411.2" y="395.8" width="6.9" height="6.9" fill="#0000ff"/>
<rect x="421.4" y="395.4" width="4.5" height="4.5" fill="#0000ff"/>
<rect x="430.1" y="395.1" width="4.5" height="4.5" fill="#0000ff"/>
<rect x="438.8" y="395.1" width="4.5" height="4.5" fill="#0000ff"/>
<rect x="446.9" y="392.8" width="6.9" height="6.9" fill="#0000ff"/>
<circle cx="332.4" cy="361.3" r="2.40" fill="#00ff00"/>
<circle cx="331.0" cy="321.6" r="2.40" fill="#00ff00"/>
<circle cx="317.2" cy="283.5" r="2.40" fill="#00ff00"/>
<circle cx="285.3" cy="257.3" r="3.60" fill="#00ff00"/>
<circle cx="251.6" cy="248.3" r="2.40" fill="#00ff00"/>
<circle cx="217.5" cy="252.3" r="2.40" fill="#00ff00"/>
<circle cx="193.5" cy="267.5" r="2.40" fill="#00ff00"/>
<circle cx="170.5" cy="286.3" r="3.60" fill="#00ff00"/>
<circle cx="352.0" cy="406.5" r="2.40" fill="#00ff00"/>
<circle cx="354.9" cy="377.3" r="2.40" fill="#00ff00"/>
<circle cx="356.4" cy="346.3" r="2.40" fill="#00ff00"/>
<circle cx="347.6" cy="317.3" r="3.60" fill="#00ff00"/>
<circle cx="331.7" cy="288.3" r="2.40" fill="#00ff00"/>
<circle cx="301.6" cy="266.4" r="2.40" fill="#00ff00"/>
<circle cx="268.6" cy="255.2" r="2.40" fill="#00ff00"/>
<circle cx="231.0" cy="256.3" r="3.60" fill="#00ff00"/>
<circle cx="371.3" cy="451.9" r="2.40" fill="#00ff00"/>
<circle cx="384.6" cy="432.1" r="2.40" fill="#00ff00"/>
<circle cx="395.5" cy="408.2" r="2.40" fill="#00ff00"/>
<circle cx="394.5" cy="388.2" r="3.60" fill="#00ff00"/>
<circle cx="390.6" cy="381.2" r="3.20" fill="#00ff00"/>
<circle cx="388.6" cy="387.0" r="2.80" fill="#00ff00"/>
<circle cx="383.5" cy="400.3" r="3.60" fill="#00ff00"/>
<g fill="#000">
<text x="305.6" y="153.6" font-size="14" text-anchor="middle" textLength="155" lengthAdjust="spacing">NOAA HYSPLIT MODEL</text>
<text x="308.5" y="170" font-size="16" text-anchor="middle" textLength="379" lengthAdjust="spacing">Backward trajectories ending at 0000 UTC 24 May 12</text>
<text x="313.6" y="187.3" font-size="14" text-anchor="middle" textLength="167.5" lengthAdjust="spacing">GDAS Meteorological Data</text>
<text transform="translate(87.3 432.2) rotate(-90)" font-size="14" textLength="43" lengthAdjust="spacing">Source</text>
<text transform="translate(87.3 358.6) rotate(-90)" font-size="14" textLength="120.6" lengthAdjust="spacing">at multiple locations</text>
<text transform="translate(87.3 595.2) rotate(-90)" font-size="14" textLength="73.6" lengthAdjust="spacing">Meters AGL</text>
<path d="M77.5 375.9L80.9 374.7L81.0 371.1L83.1 374.0L86.5 373.0L84.5 375.9L86.5 378.8L83.1 377.8L81.0 380.7L80.9 377.1Z"/>
<text x="117.2" y="558.0" font-size="10.5" text-anchor="middle" textLength="26.1" lengthAdjust="spacing" stroke="#000" stroke-width="0.22">3000</text>
<text x="117.6" y="582.0" font-size="10.5" text-anchor="middle" textLength="25.4" lengthAdjust="spacing" stroke="#000" stroke-width="0.22">1500</text>
<text x="117.5" y="598.8" font-size="10.5" text-anchor="middle" textLength="19.6" lengthAdjust="spacing" stroke="#000" stroke-width="0.22">500</text>
<text x="495.4" y="541.9" font-size="10.5" text-anchor="middle" textLength="25.6" lengthAdjust="spacing" stroke="#000" stroke-width="0.22">4000</text>
<text x="495.4" y="557.8" font-size="10.5" text-anchor="middle" textLength="25.6" lengthAdjust="spacing" stroke="#000" stroke-width="0.22">3000</text>
<text x="495.4" y="574.0" font-size="10.5" text-anchor="middle" textLength="25.6" lengthAdjust="spacing" stroke="#000" stroke-width="0.22">2000</text>
<text x="495.4" y="589.6" font-size="10.5" text-anchor="middle" textLength="25.6" lengthAdjust="spacing" stroke="#000" stroke-width="0.22">1000</text>
<text x="184.2" y="616.6" font-size="9.5" text-anchor="middle" textLength="10.4" lengthAdjust="spacing" stroke="#000" stroke-width="0.22">18</text>
<text x="224.7" y="616.6" font-size="9.5" text-anchor="middle" textLength="10.4" lengthAdjust="spacing" stroke="#000" stroke-width="0.22">12</text>
<text x="265.3" y="616.6" font-size="9.5" text-anchor="middle" textLength="10.4" lengthAdjust="spacing" stroke="#000" stroke-width="0.22">06</text>
<text x="305.9" y="616.6" font-size="9.5" text-anchor="middle" textLength="10.4" lengthAdjust="spacing" stroke="#000" stroke-width="0.22">00</text>
<text x="346.4" y="616.6" font-size="9.5" text-anchor="middle" textLength="10.4" lengthAdjust="spacing" stroke="#000" stroke-width="0.22">18</text>
<text x="387.0" y="616.6" font-size="9.5" text-anchor="middle" textLength="10.4" lengthAdjust="spacing" stroke="#000" stroke-width="0.22">12</text>
<text x="427.6" y="616.6" font-size="9.5" text-anchor="middle" textLength="10.4" lengthAdjust="spacing" stroke="#000" stroke-width="0.22">06</text>
<text x="468.2" y="616.6" font-size="9.5" text-anchor="middle" textLength="10.4" lengthAdjust="spacing" stroke="#000" stroke-width="0.22">00</text>
<text x="305.9" y="626.7" font-size="9.5" text-anchor="middle" textLength="24.1" lengthAdjust="spacing" stroke="#000" stroke-width="0.22">05/23</text>
<text x="468.2" y="626.7" font-size="9.5" text-anchor="middle" textLength="24.1" lengthAdjust="spacing" stroke="#000" stroke-width="0.22">05/22</text>
</g>
</svg>
</body></html>
